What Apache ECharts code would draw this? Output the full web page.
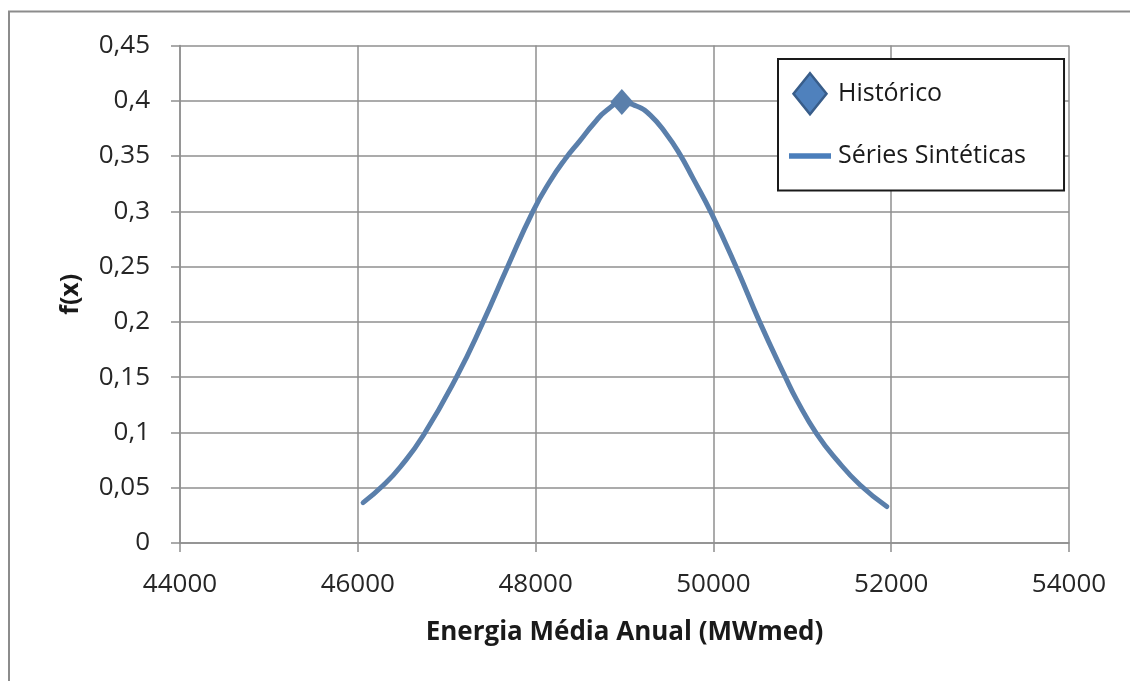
<!DOCTYPE html>
<html>
<head>
<meta charset="utf-8">
<script src="https://cdn.jsdelivr.net/npm/echarts@6/dist/echarts.min.js"></script>
<style>
  html, body { margin: 0; padding: 0; background: #ffffff; }
  #chart { width: 1130px; height: 681px; }
</style>
</head>
<body>
<div id="chart"></div>
<script>
// Densidade de probabilidade da energia média anual
const energiaSinteticas = [46060, 46290, 46480, 46740, 47110, 47410, 47680, 47970, 48160, 48330, 48500, 48650, 48800, 48970, 49140, 49290, 49470, 49620, 49770, 49980, 50260, 50520, 50810, 50940, 51160, 51390, 51650, 51950];
const fxSinteticas     = [0.0365, 0.0525, 0.069, 0.0977, 0.150, 0.200, 0.249, 0.300, 0.327, 0.347, 0.364, 0.379, 0.3915, 0.398, 0.395, 0.387, 0.370, 0.352, 0.330, 0.298, 0.249, 0.200, 0.150, 0.129, 0.099, 0.075, 0.0525, 0.033];
const energiaHistorico = [48970];
const fxHistorico      = [0.399];

const xTicks = { min: 44000, max: 54000, interval: 2000 };
const yTicks = { min: 0, max: 0.45, interval: 0.05 };

const nomeHistorico = 'Histórico';
const nomeSinteticas = 'Séries Sintéticas';
const tituloX = 'Energia Média Anual (MWmed)';
const tituloY = 'f(x)';

const fonte = '"Open Sans", "Liberation Sans", sans-serif';
const cinza = '#8f8f8f';
const azulLinha = '#5a7fab';

const chart = echarts.init(document.getElementById('chart'), null, { renderer: 'canvas' });

const option = {
  backgroundColor: '#ffffff',
  animation: false,
  graphic: [{
    type: 'rect',
    z: -10,
    shape: { x: 9, y: 11.5, width: 1300, height: 900 },
    style: { fill: 'none', stroke: '#8c8c8c', lineWidth: 2 }
  }],
  grid: { left: 180, right: 61, top: 45.5, bottom: 138 },
  legend: {
    orient: 'vertical',
    left: 778,
    top: 59,
    padding: [13, 38, 22, 11],
    itemGap: 28,
    itemWidth: 42,
    itemHeight: 41,
    borderColor: '#1a1a1a',
    borderWidth: 2,
    backgroundColor: '#ffffff',
    textStyle: { fontFamily: fonte, fontSize: 25, color: '#1a1a1a', padding: [0, 0, 0, 2] },
    data: [
      {
        name: nomeHistorico,
        icon: 'path://M16.5,0L33,20.5L16.5,41L0,20.5Z',
        itemStyle: { color: '#4f81bd', borderColor: '#385d8a', borderWidth: 2.5 }
      },
      {
        name: nomeSinteticas,
        icon: 'path://M0,0L42,0L42,5.5L0,5.5Z',
        itemStyle: { color: '#4a7ebb', borderWidth: 0 }
      }
    ]
  },
  xAxis: {
    type: 'value',
    min: xTicks.min, max: xTicks.max, interval: xTicks.interval,
    name: tituloX,
    nameLocation: 'middle',
    nameGap: 77,
    nameTextStyle: { fontFamily: fonte, fontSize: 26, fontWeight: 'bold', color: '#1a1a1a' },
    axisLine: { show: true, lineStyle: { color: cinza, width: 1.5 } },
    axisTick: { show: true, inside: false, length: 9, lineStyle: { color: cinza, width: 1.5 } },
    axisLabel: { fontFamily: fonte, fontSize: 26, color: '#262626', margin: 29, formatter: v => String(v) },
    splitLine: { show: true, lineStyle: { color: cinza, width: 1.5 } }
  },
  yAxis: {
    type: 'value',
    min: yTicks.min, max: yTicks.max, interval: yTicks.interval,
    name: tituloY,
    nameLocation: 'middle',
    nameGap: 97,
    nameRotate: 90,
    nameTextStyle: { fontFamily: fonte, fontSize: 25, fontWeight: 'bold', color: '#1a1a1a' },
    axisLine: { show: true, lineStyle: { color: cinza, width: 1.5 } },
    axisTick: { show: true, inside: false, length: 9, lineStyle: { color: cinza, width: 1.5 } },
    axisLabel: {
      fontFamily: fonte, fontSize: 26, color: '#262626', margin: 30,
      formatter: v => String(Number(v.toFixed(2))).replace('.', ',')
    },
    splitLine: { show: true, lineStyle: { color: cinza, width: 1.5 } }
  },
  series: [
    {
      name: nomeHistorico,
      type: 'scatter',
      z: 3,
      symbol: 'path://M11.5,0L23,13L11.5,26L0,13Z',
      symbolSize: [23, 26],
      itemStyle: { color: azulLinha, opacity: 1 },
      data: energiaHistorico.map((x, i) => [x, fxHistorico[i]])
    },
    {
      name: nomeSinteticas,
      type: 'line',
      z: 2,
      smooth: 0.5,
      symbol: 'none',
      lineStyle: { color: azulLinha, width: 5, cap: 'round' },
      itemStyle: { color: azulLinha },
      data: energiaSinteticas.map((x, i) => [x, fxSinteticas[i]])
    }
  ]
};

chart.setOption(option);
</script>
</body>
</html>
